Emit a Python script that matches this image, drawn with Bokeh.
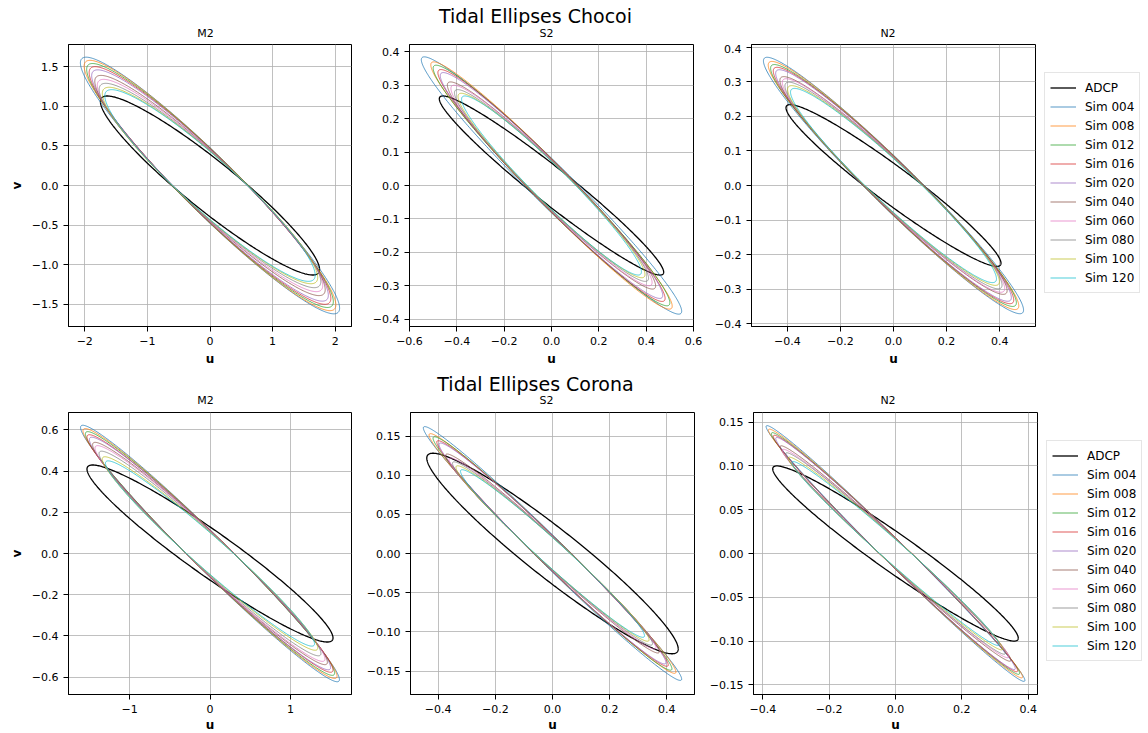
import numpy as np
from bokeh.plotting import figure
from bokeh.models import FixedTicker, Label, Legend, LegendItem, Range1d
from bokeh.layouts import column, row
from bokeh.embed import file_html
from bokeh.resources import INLINE

# ---------------- data ----------------
sim_names = ["Sim 004", "Sim 008", "Sim 012", "Sim 016", "Sim 020",
             "Sim 040", "Sim 060", "Sim 080", "Sim 100", "Sim 120"]
sim_colors = ["#1f77b4", "#ff7f0e", "#2ca02c", "#d62728", "#9467bd",
              "#8c564b", "#e377c2", "#7f7f7f", "#bcbd22", "#17becf"]
stations = ["Chocoi", "Corona"]
constituents = ["M2", "S2", "N2"]

# ADCP ellipse: [u amplitude, v amplitude, v-u phase lag (deg)]
chocoi_m2_adcp = [1.75, 1.13, 159.6]
chocoi_s2_adcp = [0.474, 0.268, 165.5]
chocoi_n2_adcp = [0.405, 0.234, 163.9]
corona_m2_adcp = [1.53, 0.43, 162.5]
corona_s2_adcp = [0.44, 0.128, 162.0]
corona_n2_adcp = [0.37, 0.10, 165.0]

# simulations: u amplitude, v amplitude, phase lag (deg)
chocoi_m2_u = [2.07, 2.01, 1.97, 1.93, 1.89, 1.84, 1.80, 1.77, 1.72, 1.68]
chocoi_m2_v = [1.62, 1.58, 1.54, 1.50, 1.46, 1.39, 1.34, 1.29, 1.24, 1.21]
chocoi_m2_ph = [162.8, 162.5, 162.2, 161.9, 161.6, 161.1, 160.6, 160.1, 159.5, 159.2]

chocoi_s2_u = [0.55, 0.51, 0.50, 0.48, 0.47, 0.44, 0.425, 0.41, 0.395, 0.38]
chocoi_s2_v = [0.385, 0.37, 0.36, 0.347, 0.338, 0.31, 0.30, 0.287, 0.276, 0.268]
chocoi_s2_ph = [167.7, 167.4, 167.2, 166.8, 166.6, 165.8, 165.5, 165.1, 164.7, 164.4]

chocoi_n2_u = [0.49, 0.472, 0.463, 0.453, 0.444, 0.428, 0.419, 0.409, 0.399, 0.388]
chocoi_n2_v = [0.371, 0.359, 0.35, 0.342, 0.335, 0.315, 0.309, 0.299, 0.289, 0.281]
chocoi_n2_ph = [166.3, 166.0, 165.8, 165.6, 165.5, 164.9, 164.8, 164.5, 164.1, 163.9]

corona_m2_u = [1.61, 1.58, 1.55, 1.53, 1.50, 1.46, 1.43, 1.38, 1.34, 1.30]
corona_m2_v = [0.623, 0.607, 0.592, 0.577, 0.565, 0.54, 0.524, 0.497, 0.47, 0.45]
corona_m2_ph = [169.3, 169.1, 168.9, 168.7, 168.5, 168.1, 167.9, 167.6, 167.3, 167.0]

corona_s2_u = [0.452, 0.432, 0.418, 0.405, 0.397, 0.374, 0.362, 0.35, 0.338, 0.322]
corona_s2_v = [0.162, 0.153, 0.149, 0.144, 0.141, 0.127, 0.122, 0.117, 0.112, 0.107]
corona_s2_ph = [171.5, 171.3, 171.1, 170.9, 170.7, 170.2, 170.0, 169.7, 169.4, 169.0]

corona_n2_u = [0.39, 0.383, 0.374, 0.368, 0.361, 0.348, 0.341, 0.331, 0.323, 0.312]
corona_n2_v = [0.146, 0.142, 0.138, 0.135, 0.1325, 0.123, 0.119, 0.115, 0.11, 0.105]
corona_n2_ph = [172.9, 172.7, 172.6, 172.4, 172.3, 171.9, 171.8, 171.6, 171.4, 171.2]

# axis limits
chocoi_m2_xlim = [-2.26, 2.26]; chocoi_m2_ylim = [-1.78, 1.78]
chocoi_s2_xlim = [-0.6, 0.6];   chocoi_s2_ylim = [-0.422, 0.422]
chocoi_n2_xlim = [-0.535, 0.535]; chocoi_n2_ylim = [-0.408, 0.408]
corona_m2_xlim = [-1.76, 1.76]; corona_m2_ylim = [-0.685, 0.685]
corona_s2_xlim = [-0.497, 0.497]; corona_s2_ylim = [-0.18, 0.18]
corona_n2_xlim = [-0.428, 0.428]; corona_n2_ylim = [-0.161, 0.161]

# ticks and tick labels
chocoi_m2_xticks = [-2, -1, 0, 1, 2]
chocoi_m2_xlabels = ["\u22122", "\u22121", "0", "1", "2"]
chocoi_m2_yticks = [-1.5, -1.0, -0.5, 0.0, 0.5, 1.0, 1.5]
chocoi_m2_ylabels = ["\u22121.5", "\u22121.0", "\u22120.5", "0.0", "0.5", "1.0", "1.5"]
chocoi_s2_xticks = [-0.6, -0.4, -0.2, 0.0, 0.2, 0.4, 0.6]
chocoi_s2_xlabels = ["\u22120.6", "\u22120.4", "\u22120.2", "0.0", "0.2", "0.4", "0.6"]
chocoi_s2_yticks = [-0.4, -0.3, -0.2, -0.1, 0.0, 0.1, 0.2, 0.3, 0.4]
chocoi_s2_ylabels = ["\u22120.4", "\u22120.3", "\u22120.2", "\u22120.1", "0.0", "0.1", "0.2", "0.3", "0.4"]
chocoi_n2_xticks = [-0.4, -0.2, 0.0, 0.2, 0.4]
chocoi_n2_xlabels = ["\u22120.4", "\u22120.2", "0.0", "0.2", "0.4"]
chocoi_n2_yticks = [-0.4, -0.3, -0.2, -0.1, 0.0, 0.1, 0.2, 0.3, 0.4]
chocoi_n2_ylabels = ["\u22120.4", "\u22120.3", "\u22120.2", "\u22120.1", "0.0", "0.1", "0.2", "0.3", "0.4"]
corona_m2_xticks = [-1, 0, 1]
corona_m2_xlabels = ["\u22121", "0", "1"]
corona_m2_yticks = [-0.6, -0.4, -0.2, 0.0, 0.2, 0.4, 0.6]
corona_m2_ylabels = ["\u22120.6", "\u22120.4", "\u22120.2", "0.0", "0.2", "0.4", "0.6"]
corona_s2_xticks = [-0.4, -0.2, 0.0, 0.2, 0.4]
corona_s2_xlabels = ["\u22120.4", "\u22120.2", "0.0", "0.2", "0.4"]
corona_s2_yticks = [-0.15, -0.10, -0.05, 0.0, 0.05, 0.10, 0.15]
corona_s2_ylabels = ["\u22120.15", "\u22120.10", "\u22120.05", "0.00", "0.05", "0.10", "0.15"]
corona_n2_xticks = [-0.4, -0.2, 0.0, 0.2, 0.4]
corona_n2_xlabels = ["\u22120.4", "\u22120.2", "0.0", "0.2", "0.4"]
corona_n2_yticks = [-0.15, -0.10, -0.05, 0.0, 0.05, 0.10, 0.15]
corona_n2_ylabels = ["\u22120.15", "\u22120.10", "\u22120.05", "0.00", "0.05", "0.10", "0.15"]

panels = {
    ("Chocoi", "M2"): (chocoi_m2_adcp, chocoi_m2_u, chocoi_m2_v, chocoi_m2_ph, chocoi_m2_xlim, chocoi_m2_ylim,
                       chocoi_m2_xticks, chocoi_m2_xlabels, chocoi_m2_yticks, chocoi_m2_ylabels),
    ("Chocoi", "S2"): (chocoi_s2_adcp, chocoi_s2_u, chocoi_s2_v, chocoi_s2_ph, chocoi_s2_xlim, chocoi_s2_ylim,
                       chocoi_s2_xticks, chocoi_s2_xlabels, chocoi_s2_yticks, chocoi_s2_ylabels),
    ("Chocoi", "N2"): (chocoi_n2_adcp, chocoi_n2_u, chocoi_n2_v, chocoi_n2_ph, chocoi_n2_xlim, chocoi_n2_ylim,
                       chocoi_n2_xticks, chocoi_n2_xlabels, chocoi_n2_yticks, chocoi_n2_ylabels),
    ("Corona", "M2"): (corona_m2_adcp, corona_m2_u, corona_m2_v, corona_m2_ph, corona_m2_xlim, corona_m2_ylim,
                       corona_m2_xticks, corona_m2_xlabels, corona_m2_yticks, corona_m2_ylabels),
    ("Corona", "S2"): (corona_s2_adcp, corona_s2_u, corona_s2_v, corona_s2_ph, corona_s2_xlim, corona_s2_ylim,
                       corona_s2_xticks, corona_s2_xlabels, corona_s2_yticks, corona_s2_ylabels),
    ("Corona", "N2"): (corona_n2_adcp, corona_n2_u, corona_n2_v, corona_n2_ph, corona_n2_xlim, corona_n2_ylim,
                       corona_n2_xticks, corona_n2_xlabels, corona_n2_yticks, corona_n2_ylabels),
}

# ---------------- layout ----------------
FONT = "DejaVu Sans"
t = np.linspace(0.0, 2.0 * np.pi, 361)

def ellipse(au, av, ph):
    return au * np.cos(t), av * np.cos(t - np.radians(ph))

frame_w = [283, 284, 284]
border_l = [68, 46, 46]
border_r = [12, 12, 110]
TOTAL_W = sum(frame_w) + sum(border_l) + sum(border_r)
border_b = [44, 39]
frame_h = 282
header_h = [44, 42]
legend_vy = [33, 33]
xlabel_standoff = [4, 2]
# header text positions: suptitle x, subtitle x per column
sup_x = 535
sub_x = [205, 546, 887.5]
sup_y = [29, 28.7]
sub_y = [11.5, 12]


def header(ri, st):
    h = figure(width=TOTAL_W, height=header_h[ri], x_range=Range1d(0, TOTAL_W),
               y_range=Range1d(0, header_h[ri]), x_axis_type=None, y_axis_type=None,
               min_border=0, output_backend="svg", toolbar_location=None, title=None)
    h.outline_line_color = None
    h.background_fill_color = "white"
    h.border_fill_color = "white"
    h.add_layout(Label(x=sup_x, y=sup_y[ri], text="Tidal Ellipses " + st,
                       text_align="center", text_baseline="middle",
                       text_font=FONT, text_font_size="19px", text_color="black"))
    for ci, con in enumerate(constituents):
        h.add_layout(Label(x=sub_x[ci], y=sub_y[ri], text=con,
                           text_align="center", text_baseline="middle",
                           text_font=FONT, text_font_size="11px", text_color="black"))
    return h


blocks = []
for ri, st in enumerate(stations):
    figs = []
    for ci, con in enumerate(constituents):
        (adcp, us, vs, phs, xlim, ylim, xt, xl, yt, yl) = panels[(st, con)]
        p = figure(frame_width=frame_w[ci], frame_height=frame_h,
                   min_border_left=border_l[ci], min_border_right=border_r[ci],
                   min_border_top=0, min_border_bottom=border_b[ri],
                   x_range=Range1d(*xlim), y_range=Range1d(*ylim),
                   output_backend="svg", toolbar_location=None, title=None)
        p.background_fill_color = "white"
        p.border_fill_color = "white"
        p.outline_line_color = "black"
        p.outline_line_width = 1
        p.outline_line_alpha = 1

        p.xaxis.ticker = FixedTicker(ticks=xt)
        p.yaxis.ticker = FixedTicker(ticks=yt)
        p.xaxis.major_label_overrides = {float(k): v for k, v in zip(xt, xl)}
        p.yaxis.major_label_overrides = {float(k): v for k, v in zip(yt, yl)}
        for ax in (p.xaxis, p.yaxis):
            ax.axis_line_color = "black"
            ax.major_tick_line_color = "black"
            ax.major_tick_out = 5
            ax.major_tick_in = 0
            ax.minor_tick_line_color = None
            ax.major_label_text_font = FONT
            ax.major_label_text_font_size = "11px"
            ax.major_label_text_color = "black"
            ax.major_label_standoff = 5
            ax.axis_label_text_font = FONT
            ax.axis_label_text_font_size = "12px"
            ax.axis_label_text_font_style = "bold"
            ax.axis_label_text_color = "black"
        p.xaxis.axis_label = "u"
        p.xaxis.axis_label_standoff = xlabel_standoff[ri]
        if ci == 0:
            p.yaxis.axis_label = "v"
            p.yaxis.axis_label_standoff = 5
        p.grid.grid_line_color = "#b0b0b0"
        p.grid.grid_line_width = 0.8

        items = []
        ux, vy = ellipse(*adcp)
        r = p.line(ux, vy, line_color="black", line_width=1.3)
        items.append(LegendItem(label="ADCP", renderers=[r]))
        for name, col, au, av, ph in zip(sim_names, sim_colors, us, vs, phs):
            ux, vy = ellipse(au, av, ph)
            r = p.line(ux, vy, line_color=col, line_width=0.9, line_alpha=0.85)
            items.append(LegendItem(label=name, renderers=[r]))

        if ci == 2:
            leg = Legend(items=items, location=(9, legend_vy[ri]),
                         label_text_font=FONT, label_text_font_size="12px", label_text_color="black",
                         label_height=19, glyph_height=19, glyph_width=26, label_standoff=9,
                         spacing=0, padding=5, margin=0,
                         border_line_color="#cccccc", border_line_width=1,
                         background_fill_color="white", background_fill_alpha=0.8)
            p.add_layout(leg, "right")
        figs.append(p)
    blocks.append(header(ri, st))
    blocks.append(row(*figs))

layout = column(*blocks)
open("out.html", "w").write(file_html(layout, INLINE))
